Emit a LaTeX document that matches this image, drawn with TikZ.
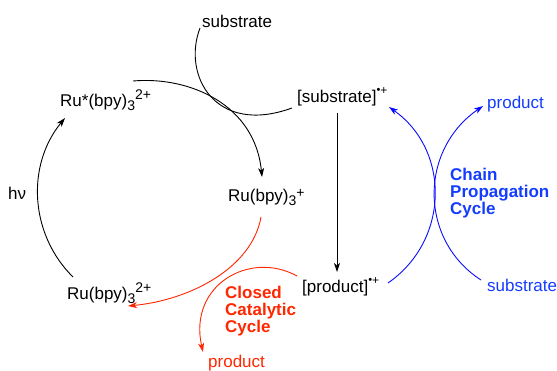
\documentclass[tikz,border=0pt]{standalone}
\usepackage{fontspec}
\setmainfont{Liberation Sans}
\usetikzlibrary{arrows.meta}
\definecolor{cred}{RGB}{255,38,0}
\definecolor{cblue}{RGB}{10,10,255}
\definecolor{tblue}{RGB}{20,60,255}
\newcommand{\mysub}[1]{\raisebox{-4pt}{\fontsize{14}{14}\selectfont #1}}
\newcommand{\mysup}[1]{\raisebox{6.5pt}{\fontsize{14}{14}\selectfont #1}}
\newcommand{\mysupl}[1]{\raisebox{3.5pt}{\fontsize{14}{14}\selectfont #1}}
\newcommand{\radc}{\raisebox{7.5pt}{\fontsize{12}{12}\selectfont\raisebox{1pt}{\fontsize{11}{11}\selectfont •}+}}
\begin{document}
\begin{tikzpicture}[x=1pt,y=-1pt,
  lbl/.style={inner sep=0pt,anchor=base west,font=\fontsize{17}{17}\selectfont},
  ttl/.style={inner sep=0pt,anchor=north west,align=left,font=\fontsize{17}{17}\selectfont\bfseries},
  conn/.style={line width=0.9pt,-{Stealth[length=9pt,width=6pt,inset=2.5pt]}},
  plain/.style={line width=0.9pt}]
\useasboundingbox (0,0) rectangle (557,370);
% labels
\node[lbl] (sub1) at (202,27) {substrate};
\node[lbl] (rustar) at (60,106) {Ru*(bpy)\mysub{3}\mysup{2+}};
\node[lbl] (subrad) at (297,102) {[substrate]\radc};
\node[lbl] (ruplus) at (228,201) {Ru(bpy)\mysub{3}\mysupl{+}};
\node[lbl] (hv) at (8,199) {hν};
\node[lbl] (ru2) at (67,299) {Ru(bpy)\mysub{3}\mysup{2+}};
\node[lbl] (prodrad) at (302,292) {[product]\radc};
\node[lbl,text=tblue] (sub2) at (487,291) {substrate};
\node[lbl,text=tblue] (prod2) at (487,108) {product};
\node[lbl,text=cred] (prod1) at (208,367) {product};
\node[ttl,text=tblue] (chain) at (450,167.6) {Chain\\Propagation\\Cycle};
\node[ttl,text=cred] (closed) at (225,285.6) {Closed\\Catalytic\\Cycle};
% connector end points
\coordinate (l1) at (73,277);   \coordinate (l2) at (65,118);
\coordinate (t1) at (133,81);   \coordinate (t2) at (262,177);
\coordinate (s1) at (200,28);   \coordinate (s2) at (292,108);
\coordinate (v1) at (337,113);  \coordinate (v2) at (337,272);
\coordinate (r1) at (261,217);  \coordinate (r2) at (128,306);
\coordinate (q1) at (297,276);  \coordinate (q2) at (203,352);
\coordinate (b1) at (388,283);  \coordinate (b2) at (389,107);
\coordinate (c1) at (481,280);  \coordinate (c2) at (483,106);
% black cycle
\draw[conn] (l1) .. controls (29.6,234.1) and (26.2,165.1) .. (l2);
\draw[conn] (t1) .. controls (190,76) and (255,105) .. (t2);
\draw[plain] (s1) .. controls (182,75) and (215,136) .. (s2);
\draw[conn] (v1) -- (v2);
% red cycle
\draw[conn,cred] (r1) .. controls (252,268) and (190,300) .. (r2);
\draw[conn,cred] (q1) .. controls (250,250) and (188,285) .. (q2);
% blue cycle
\draw[conn,cblue] (b1) .. controls (450,240) and (450,150) .. (b2);
\draw[conn,cblue] (c1) .. controls (419,240) and (419,150) .. (c2);
\end{tikzpicture}
\end{document}
